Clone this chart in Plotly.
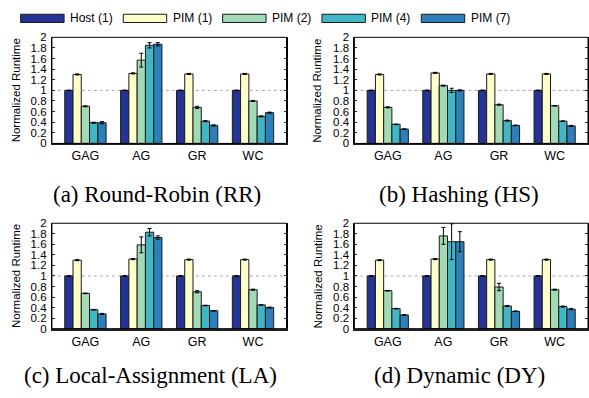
import plotly.graph_objects as go

# ---------------- data ----------------
categories = ["GAG", "AG", "GR", "WC"]
series_names = ["Host (1)", "PIM (1)", "PIM (2)", "PIM (4)", "PIM (7)"]
series_colors = ["#253494", "#ffffcc", "#a1dab4", "#41b6c4", "#2c7fb8"]

# values per series (rows) x category (columns)
rr_values = [
    [1.00, 1.00, 1.00, 1.00],
    [1.30, 1.32, 1.31, 1.31],
    [0.70, 1.57, 0.68, 0.80],
    [0.39, 1.85, 0.42, 0.51],
    [0.39, 1.87, 0.34, 0.58],
]
rr_errors = [
    [0.005, 0.005, 0.005, 0.005],
    [0.01, 0.01, 0.01, 0.01],
    [0.01, 0.13, 0.02, 0.01],
    [0.01, 0.05, 0.01, 0.01],
    [0.02, 0.03, 0.01, 0.01],
]
hs_values = [
    [1.00, 1.00, 1.00, 1.00],
    [1.30, 1.33, 1.31, 1.31],
    [0.68, 1.09, 0.73, 0.71],
    [0.36, 1.00, 0.43, 0.42],
    [0.27, 1.00, 0.34, 0.33],
]
hs_errors = [
    [0.005, 0.005, 0.005, 0.005],
    [0.01, 0.01, 0.01, 0.01],
    [0.01, 0.01, 0.01, 0.005],
    [0.005, 0.04, 0.01, 0.005],
    [0.005, 0.01, 0.005, 0.01],
]
la_values = [
    [1.00, 1.00, 1.00, 1.00],
    [1.30, 1.32, 1.31, 1.31],
    [0.67, 1.59, 0.70, 0.74],
    [0.36, 1.83, 0.44, 0.45],
    [0.28, 1.73, 0.34, 0.40],
]
la_errors = [
    [0.005, 0.005, 0.005, 0.005],
    [0.01, 0.01, 0.01, 0.01],
    [0.005, 0.15, 0.02, 0.01],
    [0.005, 0.07, 0.005, 0.005],
    [0.01, 0.03, 0.005, 0.01],
]
dy_values = [
    [1.00, 1.00, 1.00, 1.00],
    [1.30, 1.32, 1.31, 1.31],
    [0.72, 1.76, 0.79, 0.74],
    [0.38, 1.65, 0.43, 0.42],
    [0.26, 1.65, 0.33, 0.37],
]
dy_errors = [
    [0.005, 0.005, 0.005, 0.005],
    [0.01, 0.01, 0.01, 0.01],
    [0.005, 0.16, 0.07, 0.01],
    [0.005, 0.34, 0.01, 0.01],
    [0.005, 0.19, 0.005, 0.01],
]
captions = ["(a) Round-Robin (RR)", "(b) Hashing (HS)",
            "(c) Local-Assignment (LA)", "(d) Dynamic (DY)"]
ytick_vals = [0, 0.2, 0.4, 0.6, 0.8, 1.0, 1.2, 1.4, 1.6, 1.8, 2.0]
ytick_text = ["0", "0.2", "0.4", "0.6", "0.8", "1", "1.2", "1.4", "1.6", "1.8", "2"]
y_title = "Normalized Runtime"

# ---------------- layout geometry ----------------
W, H = 589, 398
SANS = "Liberation Sans, Arial, sans-serif"
SERIF = "Liberation Serif, Times New Roman, serif"

def px_x(p):
    return p / W

def px_y(p):
    return 1 - p / H

panels = [
    dict(vals=rr_values, errs=rr_errors, xd=[px_x(52), px_x(287)], yd=[px_y(141.7), px_y(32.3)],
         ytitle_x=16, cap_x=157, cap_y=194),
    dict(vals=hs_values, errs=hs_errors, xd=[px_x(355), 1.0], yd=[px_y(141.7), px_y(32.3)],
         ytitle_x=318, cap_x=460, cap_y=194),
    dict(vals=la_values, errs=la_errors, xd=[px_x(52), px_x(287)], yd=[px_y(332.7), px_y(224)],
         ytitle_x=16, cap_x=151, cap_y=381),
    dict(vals=dy_values, errs=dy_errors, xd=[px_x(355), 1.0], yd=[px_y(332.7), px_y(224)],
         ytitle_x=318, cap_x=460, cap_y=381),
]

fig = go.Figure()
layout = dict(
    width=W, height=H,
    margin=dict(l=0, r=0, t=0, b=0),
    paper_bgcolor="white", plot_bgcolor="white",
    barmode="group", bargap=0.26, bargroupgap=0,
    showlegend=False,
    font=dict(family=SANS, color="black"),
)
shapes = []
annotations = []

for i, p in enumerate(panels):
    n = i + 1
    xa = "x" if n == 1 else f"x{n}"
    ya = "y" if n == 1 else f"y{n}"
    for s in range(len(series_names)):
        fig.add_trace(go.Bar(
            x=categories, y=p["vals"][s], name=series_names[s],
            marker=dict(color=series_colors[s], line=dict(color="#1a1a1a", width=1)),
            error_y=dict(type="data", array=p["errs"][s], color="black", thickness=1, width=2),
            xaxis=xa, yaxis=ya, offsetgroup=str(s),
        ))
    layout["xaxis" if n == 1 else f"xaxis{n}"] = dict(
        domain=p["xd"], anchor=ya, range=[-0.6, 3.6],
        showline=True, linecolor="#222", linewidth=2, mirror=False,
        ticks="", showgrid=False, zeroline=False,
        tickfont=dict(family=SANS, size=12.5, color="black"),
    )
    layout["yaxis" if n == 1 else f"yaxis{n}"] = dict(
        domain=p["yd"], anchor=xa, range=[0, 2],
        tickvals=ytick_vals, ticktext=ytick_text,
        showline=True, linecolor="black", linewidth=1, mirror="ticks",
        ticks="inside", ticklen=3, tickcolor="#333",
        showgrid=False, zeroline=False,
        tickfont=dict(family=SANS, size=11.5, color="black"),
        ticklabelstandoff=2,
    )
    # frame
    shapes.append(dict(type="rect", xref=f"{xa} domain", yref=f"{ya} domain",
                       x0=0, x1=1, y0=0, y1=1, line=dict(color="black", width=1),
                       layer="above"))
    # dashed reference line at 1
    shapes.append(dict(type="line", xref=f"{xa} domain", yref=ya,
                       x0=0, x1=1, y0=1, y1=1,
                       line=dict(color="#aaaaaa", width=1, dash="dot"), layer="below"))
    annotations.append(dict(
        text=y_title, textangle=-90, xref="paper", yref="paper",
        x=px_x(p["ytitle_x"]), y=(p["yd"][0] + p["yd"][1]) / 2,
        xanchor="center", yanchor="middle", showarrow=False,
        font=dict(family=SANS, size=11.5, color="black"),
    ))
    annotations.append(dict(
        text=captions[i], xref="paper", yref="paper",
        x=px_x(p["cap_x"]), y=px_y(p["cap_y"]),
        xanchor="center", yanchor="middle", showarrow=False,
        font=dict(family=SERIF, size=23, color="black"),
    ))

# legend drawn as swatches + labels
legend_swatch_x = [20.7, 123.5, 223, 322.5, 422]
for s in range(len(series_names)):
    x0 = legend_swatch_x[s]
    shapes.append(dict(type="rect", xref="paper", yref="paper",
                       x0=px_x(x0), x1=px_x(x0 + 43.5), y0=px_y(17), y1=px_y(8.5),
                       fillcolor=series_colors[s], line=dict(color="#1a1a1a", width=1)))
    annotations.append(dict(
        text=series_names[s], xref="paper", yref="paper",
        x=px_x(x0 + 47.5), y=px_y(12.7), xanchor="left", yanchor="middle",
        showarrow=False, font=dict(family=SANS, size=12, color="black"),
    ))

layout["shapes"] = shapes
layout["annotations"] = annotations
fig.update_layout(**layout)
fig.write_html(
    "out.html",
    config={"displayModeBar": False, "staticPlot": True},
    post_script="document.body.style.margin='0';document.body.style.padding='0';",
)
